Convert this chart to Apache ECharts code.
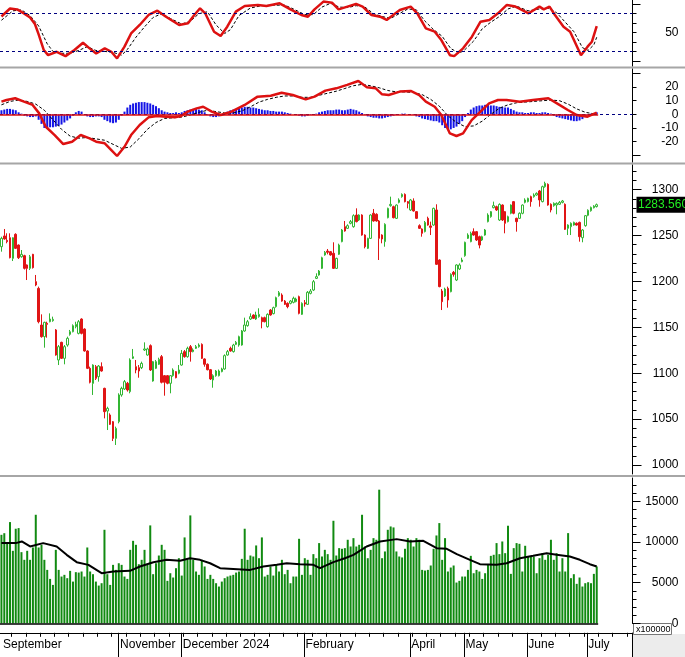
<!DOCTYPE html>
<html><head><meta charset="utf-8">
<script src="https://cdn.jsdelivr.net/npm/echarts@6/dist/echarts.min.js"></script>
<style>html,body{margin:0;padding:0;background:#fff;}#c{width:685px;height:657px;}</style>
</head><body><div id="c"></div>
<script>
// ---------- DATA ----------
const opens = [
1237.8,1249.5,1244.7,1247.6,1225.1,1251.3,1239.6,1226.9,1228.0,1217.9,
1214.2,1229.5,1199.7,1192.4,1152.5,1139.8,1154.3,1156.1,1157.2,1147.1,
1114.4,1133.6,1116.2,1130.7,1142.3,1145.2,1150.7,1143.4,1159.0,1148.1,
1124.2,1105.3,1088.9,1107.1,1096.2,1107.1,1083.5,1058.8,1054.5,1047.2,
1029.0,1047.2,1076.3,1082.8,1089.0,1079.9,1116.2,1107.1,1106.0,1106.0,
1125.3,1119.8,1130.0,1091.5,1105.3,1109.7,1118.0,1097.3,1097.3,1089.0,
1097.3,1101.7,1099.9,1108.9,1123.5,1118.0,1128.9,1123.5,1127.1,1128.9,
1131.4,1115.5,1109.7,1103.8,1092.6,1097.3,1097.3,1101.7,1104.6,1119.8,
1127.1,1123.5,1131.4,1130.7,1130.7,1146.0,1151.8,1159.0,1163.4,1159.0,
1161.6,1160.5,1160.5,1150.7,1168.8,1164.9,1172.5,1184.5,1185.2,1178.6,
1176.1,1176.1,1177.2,1178.0,1183.4,1164.1,1176.8,1175.0,1187.0,1190.6,
1203.3,1207.0,1214.2,1228.8,1233.1,1232.4,1230.6,1214.2,1229.5,1243.3,
1259.6,1257.8,1263.3,1259.6,1272.3,1266.9,1272.3,1250.5,1236.0,1246.9,
1274.2,1273.1,1265.8,1250.5,1243.3,1269.4,1282.5,1281.4,1268.7,1286.1,
1292.3,1294.8,1286.9,1277.8,1287.6,1276.0,1260.7,1257.1,1254.2,1268.7,
1260.4,1261.4,1277.8,1223.3,1189.5,1184.1,1192.4,1188.8,1209.9,1201.5,
1213.5,1221.5,1228.0,1246.9,1243.3,1254.2,1254.2,1248.7,1245.1,1250.5,
1265.1,1270.5,1280.3,1281.4,1266.9,1283.2,1276.0,1265.1,1274.2,1286.9,
1268.7,1268.7,1274.2,1286.1,1286.9,1292.3,1292.3,1294.1,1298.5,1286.9,
1303.2,1305.7,1284.0,1282.5,1283.2,1284.0,1286.1,1284.0,1257.8,1259.6,
1261.4,1263.3,1264.3,1247.6,1260.7,1272.0,1277.0,1280.2,1281.5];
const closes = [
1246.9,1246.2,1243.3,1225.8,1247.6,1236.0,1225.8,1229.5,1214.2,1214.2,
1226.9,1215.0,1196.1,1156.1,1139.8,1155.4,1153.2,1159.0,1158.7,1119.8,
1128.9,1116.2,1128.9,1138.0,1145.2,1151.8,1153.2,1156.1,1143.4,1124.2,
1105.3,1090.1,1108.9,1094.4,1107.8,1102.4,1058.1,1061.7,1044.3,1029.0,
1039.9,1076.3,1083.5,1090.8,1081.7,1114.4,1118.0,1103.5,1102.4,1110.7,
1126.4,1126.4,1103.5,1112.6,1112.6,1115.1,1090.1,1090.1,1089.0,1097.3,
1103.5,1095.1,1103.5,1121.6,1118.0,1127.1,1123.5,1125.3,1128.9,1130.7,
1116.2,1109.7,1103.8,1093.7,1097.3,1102.4,1102.4,1104.6,1119.1,1123.5,
1124.2,1130.7,1133.6,1139.8,1146.0,1152.5,1156.1,1161.6,1159.8,1163.4,
1164.1,1156.1,1156.1,1164.1,1163.4,1171.4,1182.3,1187.7,1178.6,1175.0,
1172.5,1178.6,1181.6,1180.8,1165.2,1176.1,1175.4,1188.1,1189.5,1199.7,
1205.2,1211.3,1225.8,1231.7,1231.7,1228.8,1214.2,1225.1,1239.6,1256.0,
1254.9,1260.7,1265.1,1271.6,1265.1,1272.3,1250.5,1237.8,1246.9,1272.3,
1265.8,1265.8,1246.9,1246.2,1262.2,1279.6,1283.9,1269.4,1283.2,1288.7,
1294.8,1286.9,1285.0,1288.7,1276.7,1268.7,1257.8,1252.4,1264.3,1261.4,
1258.9,1279.6,1218.6,1194.3,1177.9,1191.7,1179.7,1207.7,1207.7,1217.9,
1217.9,1223.3,1242.6,1250.5,1252.4,1250.5,1245.1,1239.6,1248.7,1256.0,
1272.3,1276.0,1282.5,1277.8,1283.9,1266.9,1263.3,1270.5,1283.2,1274.2,
1265.1,1274.2,1283.2,1288.7,1290.5,1286.9,1294.1,1295.9,1288.7,1303.2,
1306.8,1283.2,1277.8,1285.0,1285.0,1286.1,1287.6,1256.7,1261.4,1263.3,
1264.3,1261.4,1248.7,1256.0,1271.6,1277.5,1280.6,1282.0,1283.56];
const lows = [
1232.4,1245.5,1241.5,1225.1,1222.2,1235.3,1224.4,1225.8,1213.0,1201.5,
1212.4,1214.0,1194.8,1154.3,1138.7,1127.8,1138.7,1155.4,1156.1,1119.1,
1108.9,1115.5,1109.7,1128.9,1140.9,1144.5,1148.9,1142.3,1142.3,1123.5,
1104.5,1088.9,1076.3,1092.6,1090.8,1101.7,1050.8,1038.1,1043.6,1026.1,
1021.8,1045.4,1074.4,1081.7,1080.0,1078.1,1115.5,1099.9,1095.1,1104.5,
1124.2,1119.1,1102.4,1090.8,1104.5,1108.9,1088.9,1075.5,1087.9,1078.1,
1096.2,1094.4,1098.8,1108.2,1116.9,1116.9,1112.6,1122.7,1126.4,1127.8,
1115.5,1107.1,1103.1,1092.6,1084.2,1096.2,1096.5,1101.0,1103.8,1119.1,
1123.5,1122.5,1130.7,1128.9,1130.0,1145.2,1150.7,1158.0,1159.0,1158.0,
1160.5,1148.9,1155.4,1149.6,1162.7,1164.1,1171.4,1183.4,1177.9,1174.3,
1170.7,1175.0,1176.1,1177.2,1164.1,1163.4,1172.5,1174.3,1185.9,1189.5,
1202.6,1206.2,1213.5,1228.0,1229.5,1228.0,1213.5,1213.5,1228.8,1242.6,
1254.2,1257.1,1262.2,1258.5,1264.3,1265.8,1249.8,1236.0,1235.3,1246.2,
1265.1,1265.1,1223.3,1241.5,1237.8,1268.7,1281.4,1268.7,1268.0,1285.0,
1291.2,1286.1,1279.6,1276.7,1276.0,1268.0,1257.1,1248.7,1253.4,1260.7,
1250.5,1260.7,1217.9,1193.6,1168.8,1183.0,1171.4,1188.1,1205.2,1200.4,
1212.4,1220.8,1226.9,1246.2,1242.6,1249.8,1244.0,1236.0,1244.0,1249.8,
1264.3,1269.4,1279.6,1276.7,1265.8,1265.8,1252.4,1264.3,1273.1,1273.1,
1254.2,1268.0,1273.1,1285.0,1286.1,1281.4,1291.2,1293.4,1281.4,1286.1,
1302.1,1282.5,1275.2,1281.4,1273.1,1283.2,1285.0,1256.0,1250.5,1250.5,
1260.7,1260.7,1243.3,1242.6,1259.6,1271.0,1276.0,1279.5,1280.5];
const highs = [
1248.7,1257.1,1252.4,1252.4,1248.0,1252.4,1240.3,1234.2,1229.0,1218.5,
1228.8,1230.0,1207.0,1194.3,1164.1,1156.1,1156.1,1165.2,1161.6,1148.1,
1130.7,1134.3,1130.7,1139.8,1147.1,1153.2,1156.1,1157.9,1159.8,1148.9,
1125.0,1107.1,1109.7,1108.9,1108.9,1111.8,1084.2,1063.5,1056.3,1047.9,
1041.8,1078.1,1085.3,1092.6,1090.5,1116.2,1126.4,1114.4,1108.9,1112.6,
1133.6,1127.8,1131.4,1113.3,1114.4,1116.9,1119.8,1098.0,1098.0,1098.0,
1105.3,1102.4,1108.9,1125.3,1125.3,1128.9,1130.7,1127.1,1130.7,1132.5,
1132.5,1116.2,1110.7,1104.6,1098.8,1103.5,1104.0,1106.0,1120.5,1125.3,
1128.9,1132.0,1135.1,1140.9,1147.1,1160.5,1158.0,1165.2,1164.1,1167.0,
1170.7,1161.6,1161.6,1165.2,1169.9,1172.5,1183.4,1189.5,1187.0,1179.7,
1177.2,1179.7,1183.4,1182.3,1184.5,1177.2,1179.7,1189.5,1191.7,1201.5,
1208.8,1212.4,1226.9,1233.1,1235.3,1233.1,1242.6,1225.8,1241.1,1257.1,
1265.8,1262.2,1266.9,1273.1,1279.6,1273.1,1273.1,1251.3,1247.6,1273.1,
1278.9,1274.2,1266.9,1251.3,1263.3,1280.3,1292.3,1282.5,1283.9,1290.5,
1295.9,1295.9,1287.6,1289.8,1290.5,1276.7,1262.2,1257.8,1265.8,1270.5,
1265.1,1280.3,1284.0,1224.0,1191.7,1193.2,1194.3,1208.8,1211.3,1218.6,
1219.7,1225.8,1243.3,1252.4,1254.2,1257.8,1254.9,1249.8,1249.8,1257.1,
1274.2,1276.7,1286.9,1282.5,1285.0,1283.9,1276.7,1271.6,1283.9,1287.6,
1269.4,1275.2,1283.9,1290.5,1291.2,1293.4,1295.9,1297.0,1299.6,1304.3,
1308.6,1306.8,1285.0,1286.1,1286.1,1287.6,1288.7,1285.0,1262.2,1264.3,
1265.1,1264.3,1265.1,1257.1,1272.3,1278.5,1281.5,1283.0,1284.8];
const volumes = [
10900,11100,9800,12470,8930,11650,11730,8765,7820,8930,
7820,9340,13370,9340,9670,7820,6580,5470,4730,9050,
6580,5760,5970,5560,6460,5140,6300,6250,6380,5760,
9340,6380,6050,5140,4650,4940,11520,6050,4730,7200,
6580,7400,7200,5760,5470,9050,10160,9670,7280,7820,
9050,7200,12060,6050,7400,8350,9670,9050,5230,6170,
5640,6790,8020,5880,10580,7820,13290,7820,6380,5970,
7820,7000,5470,5970,5470,4940,4530,5140,5560,5760,
5880,5970,6250,6380,7940,11650,7820,8350,8230,9590,
8020,10580,5760,5970,7000,5880,7200,6380,7820,6050,
6580,4940,5760,5760,10410,5970,8020,7820,5970,8520,
8020,9880,8230,9050,8520,7820,12630,8350,9260,9180,
9260,10290,9460,10490,9460,9670,13370,9460,8020,9050,
10490,10290,16460,8020,8850,11520,11930,11810,8850,8230,
8110,9180,10490,10290,9460,10490,10290,6580,6500,6580,
7120,9180,10820,12345,7820,10490,6380,6870,7120,5020,
5230,5760,5760,6580,8310,6170,6580,6380,5470,6170,
7200,8310,8440,9880,8520,10080,8640,12020,6090,9260,
9880,9790,6380,9550,8230,8230,8230,6170,8020,8640,
7820,8440,10290,7820,8640,6380,8020,6380,11110,5560,
6050,4860,5640,4530,4940,5060,4940,6090,7000];
// [bar index, value] points of the lines
const volumeMA = [[0,9880],[5,9880],[7.1,10080],[10,9465],[14.6,9876],[19.3,9465],[22.8,8436],[26.3,7530],[30.4,7200],[35,6170],[39.1,6380],[44.9,6460],[48.4,7000],[53.1,7530],[57.7,7820],[62.4,7700],[65.9,8020],[69.4,7820],[72.9,7400],[76.4,6790],[81,6700],[86.9,6580],[91.5,7000],[96.2,7200],[99.7,7400],[104.3,7280],[109,7200],[111.3,6790],[116,7530],[120,8020],[123,8436],[127.6,9465],[132.3,10080],[138.1,10370],[142.8,10080],[147.4,10160],[152.1,9260],[155.6,9180],[159.1,8520],[163.7,7820],[167.2,7280],[173,7200],[176.5,7400],[181.2,8020],[185.8,8310],[190.5,8640],[194,8436],[198.6,8230],[202.1,7820],[205.6,7280],[208,7000]];
const rsiLine = [[0,67],[3,75.5],[5.5,74.5],[8,70],[10,66],[11.7,59],[13,48],[14.8,31.4],[16.3,26],[19.3,29.6],[22.4,25],[25.5,31.4],[28.5,39.2],[30.8,33.2],[33.1,27.8],[36.1,33.2],[38.4,29.6],[40.4,22.5],[43,35],[45.3,49],[48.3,58],[51.4,68.6],[54.5,73.2],[57.5,66.8],[62.1,58],[65.2,59.8],[67.4,68.6],[69.4,75.7],[71.2,70.4],[74.3,50.9],[76.6,46.3],[78.9,56.2],[81.9,72.2],[85,78.2],[89.6,79.3],[92.6,78.2],[97.2,81],[101,74.6],[104.8,68.6],[107.1,66.8],[109.4,74.6],[112.5,82.8],[115.5,81.7],[117.8,74.6],[120.9,77.5],[123.9,80.3],[126.2,77.5],[129.3,68.6],[132.3,66.8],[134.6,63.3],[136.9,68.6],[139.2,73.9],[143,77.5],[145.3,70.4],[148.3,54.4],[151.4,50.9],[153.7,42],[156.7,26],[158.2,25],[161.3,33.2],[164.4,45.6],[167.4,61.5],[170.5,63.3],[173.5,70.4],[176.6,79.3],[179.6,77.5],[184.2,70.4],[188,77.5],[189.5,74.6],[191.5,77.5],[193.4,68.6],[196.4,56.2],[198.7,50.9],[202.5,26],[204.8,35],[206.3,40.2],[208,56.9]];
const rsiSignal = [[0,63],[4,73],[7,74],[10,68],[13,57],[16,38],[18,30],[21,28],[24,28],[27,31],[30,35],[33,31],[36,30],[39,29],[42,26],[44,32],[47,45],[50,56],[53,66],[56,70],[59,65],[63,59],[66,62],[69,70],[72,72],[75,58],[78,49],[80,53],[83,68],[87,76],[91,78.5],[95,79],[99,79],[102,75],[106,69],[109,69],[112,77],[115,81],[118,77],[121,76.5],[124,78.5],[127,77],[130,70],[133,67],[136,65],[139,70],[142,75],[145,74],[148,62],[151,53],[154,46],[157,33],[160,28],[162,32],[165,41],[168,54],[171,61],[174,67],[177,75],[180,78],[184,73],[188,75],[191,76],[194,71],[197,61],[200,51],[203,34],[205,31],[207,37],[208,45]];
const macdLine = [[0,9.3],[1.8,10.5],[4.8,11.8],[7.9,9.3],[10.9,6.9],[13.2,0.7],[15.5,-9.1],[18.6,-15.2],[21.6,-21.8],[24.7,-20.1],[27.7,-15.2],[30.8,-17.6],[33.1,-20.1],[36.1,-21.3],[38.4,-26.2],[40.4,-30.6],[43,-23.8],[45.3,-15.2],[48.3,-7.8],[51.4,-2.2],[54.4,-1.2],[57.5,-1.7],[60.6,-2.2],[62.8,-1.2],[65.1,2],[68.2,4.4],[70.5,5.6],[73.5,2],[76.6,-0.5],[80.4,2],[85,6.9],[89.5,13],[94.1,13.7],[97.9,15.9],[101.8,14.2],[106.3,11],[109.4,13],[113.2,17.4],[117,19.1],[120.8,21.6],[124.7,24.5],[127.7,19.9],[130.8,19.1],[133,14.7],[135.3,14.2],[139.2,16.7],[143,17.2],[146,14.2],[148.3,9.3],[151.4,5.6],[153.7,-0.5],[156.7,-14],[159,-15.9],[161.3,-14],[164.3,-4.2],[167.4,2],[170.4,8.1],[173.5,10.5],[176.5,10.5],[181.1,9.3],[185.7,10.5],[191.1,11.8],[194.1,8.1],[197.9,3.2],[201,-0.5],[204.8,-1.7],[208,1.2]];
const macdSignal = [[0,7],[3,9.5],[6,10.5],[9,9.5],[12,7.5],[15,3],[18,-4],[21,-11],[24,-16],[27,-17.5],[30,-17],[33,-18],[36,-19],[39,-22],[42,-25],[45,-24],[48,-18],[51,-11],[54,-6],[57,-3],[60,-2.5],[63,-2],[66,-0.5],[69,1.5],[72,3],[75,2],[78,1],[81,1],[84,2.5],[87,5.5],[90,9],[93,11],[96,12.5],[99,13.5],[102,13.5],[105,12.5],[108,12.5],[111,14],[114,15.5],[117,17],[120,19],[123,21],[126,22],[129,21],[132,19.5],[135,17.5],[138,16.5],[141,16.5],[144,16],[147,14.5],[150,11],[153,6],[156,-1],[159,-6],[162,-9],[165,-8.5],[168,-5],[171,0],[174,4.5],[177,7],[180,8.5],[183,9],[186,9.5],[189,10],[192,10.5],[195,10],[198,7.5],[201,4],[204,1.5],[208,0]];
const macdHist = [
3,3.5,4,4,3.5,3, 1.5,0.5, -1,-1.5,-2,-2,-1.5, -4, -7,
-10,-10,-9.5,-9.5,-9, -8.5,-7.5,-6,-4.5,-3, -1, 1.5,2.5,2, 0,
-1.5,-2,-2,-1.5,-1.5,-2, -4,-5,-6,-6.5,-6,-4, -1,
2,5,7,8,8.5,9,9,9,8.5,8,7,6,4.5,3,
2,1.5,1,1,1.5,1,1.5, 2.5,3,3.5,4,4,3.5,3,1.5,
-0.5,-1.5,-2,-2,-1.5,-0.5,
1,2,3,3.5,4,4.5,5,5.5,5.5,5,5,4.5,4,3.5,3,3,2.5,
2.5,2,2,2,1.5,1,0.5,0,-0.5, -1,-1.5,-1.5,-1,-0.5,0,0.5,
1.5,2,2.5,3,3,3,3.5,3.5,3,3,3.5,4,3.5,3,2,1,
-0.5,-1.5,-2,-2.5,-2.5,-3,-3,-2.5,-2,-1.5,-1,
-0.5,0,0.5,0.5,0,0,-0.5,
-1.5,-2,-3,-3.5,-4,-4.5,-5,-5,
-6,-8,-10,-11,-11,-10,-9,-7,-5,-2,
1,3.5,5,6,6.5,6.5,7,7,6.5,6.5,6,5.5,5.5, 5,5,4,3,
2,1.5,1.5,1,1,1.5,1.5,1,1,1.5,1.5,1,0.5,
-1,-2,-2.5,-3,-3.5,-4,-4.5,-5,-5,-4.5,-3.5,-2,
-0.5,0.5,1,1.5];
const monthStarts = [0, 41, 63, 84, 106, 143, 162, 184, 205];
const monthNames = ['September','November','December','2024','February','April','May','June','July'];
const monthLines = [41, 63, 106, 143, 162, 184, 205];
const priceMajor = [1000,1050,1100,1150,1200,1250,1300];
const volMajor = [0,5000,10000,15000];
const macdLabels = [-20,-10,0,10,20];
const rsiLabels = [50];

// ---------- CHART ----------
const SLOTS = 221;
const FONT = '"Liberation Sans", Arial, sans-serif';
const cats = []; for (let i = 0; i < SLOTS; i++) cats.push(String(i));
const candles = opens.map((o, i) => [o, closes[i], lows[i], highs[i]]);
const lastIdx = closes.length - 1;
const monthLabelMap = new Map(monthStarts.map((m, k) => [m, monthNames[k]]));
const monthLineSet = new Set(monthLines);
const weekSet = new Set(); for (let i = 4; i < SLOTS; i += 5) if (!monthLineSet.has(i)) weekSet.add(i);
function range(a, b, s) { const r = []; for (let v = a; v <= b + 1e-9; v += s) r.push(v); return r; }

const panels = [
  { top: 0, height: 66 },
  { top: 69, height: 93 },
  { top: 165, height: 309 },
  { top: 478, height: 145.3 }
];
// grids 0-3 carry the series, grids 4-7 (same rectangles) carry the long major ticks
const grids = panels.concat(panels).map(p => ({ left: 0, right: 52.5, top: p.top, height: p.height }));
function yAx(grid, min, max, ticks, len, labels, line) {
  return { type: 'value', gridIndex: grid, position: 'right', min: min, max: max,
    axisLine: { show: line, onZero: false, lineStyle: { color: '#000', width: 1 } },
    axisTick: { show: true, length: len, customValues: ticks, lineStyle: { color: '#000', width: 1 } },
    axisLabel: { show: labels.length > 0, customValues: labels.length ? labels : undefined, align: 'right', margin: 46,
      color: '#000', fontSize: 12, fontFamily: FONT, formatter: (v) => String(v) },
    splitLine: { show: false } };
}
const valX = (g) => ({ type: 'value', gridIndex: g, min: -0.5, max: SLOTS - 0.5, show: false, axisLine: { onZero: false } });
const catX = (g) => ({ type: 'category', gridIndex: g, data: cats, show: false, boundaryGap: true, axisLine: { onZero: false } });

const option = {
  animation: false,
  backgroundColor: '#fff',
  grid: grids,
  xAxis: [
    valX(0), catX(1), valX(1), catX(2), catX(3), valX(3),
    { type: 'category', gridIndex: 3, data: cats, position: 'bottom', offset: 9.5,
      axisLine: { show: true, onZero: false, lineStyle: { color: '#000', width: 1 } },
      axisTick: { show: true, interval: (i) => weekSet.has(i), length: 4, lineStyle: { color: '#000' } },
      axisLabel: { show: false }, splitLine: { show: false } },
    { type: 'category', gridIndex: 7, data: cats, position: 'bottom', offset: 9.5,
      axisLine: { show: false, onZero: false },
      axisTick: { show: true, interval: (i) => monthLineSet.has(i), length: 25, lineStyle: { color: '#000' } },
      axisLabel: { show: true, interval: (i) => monthLabelMap.has(i), formatter: (v, i) => monthLabelMap.get(i) || '',
        align: 'left', margin: 6, color: '#000', fontSize: 12, fontFamily: FONT },
      splitLine: { show: false } },
    valX(4), valX(5), valX(6)
  ],
  yAxis: [
    yAx(0, 14.5, 84.5, range(30, 70, 10), 4, rsiLabels, true),               // 0
    yAx(1, -35, 33.3, range(-20, 20, 10), 4, macdLabels, true),              // 1
    yAx(2, 990.2, 1326.8, range(1000, 1320, 10), 4, [], true),               // 2
    yAx(3, 0, 17900, range(0, 17000, 1000), 4, [], true),                    // 3
    yAx(4, 14.5, 84.5, [20, 80], 8, [], false),                              // 4
    yAx(5, -35, 33.3, [-30, 30], 8, [], false),                              // 5
    yAx(6, 990.2, 1326.8, priceMajor, 9, priceMajor, false),                 // 6
    yAx(7, 0, 17900, volMajor, 8, volMajor, false)                           // 7
  ],
  series: [
    { name: 'RSI signal', type: 'line', xAxisIndex: 0, yAxisIndex: 0, data: rsiSignal, showSymbol: false, symbol: 'none',
      lineStyle: { color: '#000', width: 1, type: [3, 2] }, z: 3,
      markLine: { silent: true, symbol: 'none', label: { show: false },
        lineStyle: { color: '#000080', width: 1, type: [3, 3] }, data: [{ yAxis: 70 }, { yAxis: 30 }] } },
    { name: 'RSI', type: 'line', xAxisIndex: 0, yAxisIndex: 0, data: rsiLine, showSymbol: false, symbol: 'none',
      lineStyle: { color: '#dd1111', width: 2.5 }, z: 4 },
    { name: 'Hist', type: 'bar', xAxisIndex: 1, yAxisIndex: 1, data: macdHist, barWidth: 2,
      itemStyle: { color: '#1414e6' }, z: 2,
      markLine: { silent: true, symbol: 'none', label: { show: false },
        lineStyle: { color: '#000080', width: 1, type: [3, 3] }, data: [{ yAxis: 0 }] } },
    { name: 'MACD signal', type: 'line', xAxisIndex: 2, yAxisIndex: 1, data: macdSignal, showSymbol: false, symbol: 'none',
      lineStyle: { color: '#000', width: 1, type: [3, 2] }, z: 3 },
    { name: 'MACD', type: 'line', xAxisIndex: 2, yAxisIndex: 1, data: macdLine, showSymbol: false, symbol: 'none',
      lineStyle: { color: '#dd1111', width: 2.5 }, z: 4,
      markLine: { silent: true, symbol: 'none', label: { show: false },
        lineStyle: { color: '#dd1111', width: 1.5, type: 'solid' },
        data: [[{ coord: [-0.5, 0] }, { coord: [lastIdx + 0.5, 0] }]] } },
    { name: 'Price', type: 'candlestick', xAxisIndex: 3, yAxisIndex: 2, data: candles, barWidth: 2,
      itemStyle: { color: '#ffffff', color0: '#e01515', borderColor: '#33b633', borderColor0: '#e01515', borderWidth: 1 } },
    { name: 'Volume', type: 'bar', xAxisIndex: 4, yAxisIndex: 3, data: volumes, barWidth: 2,
      itemStyle: { color: '#118a11' } },
    { name: 'Volume MA', type: 'line', xAxisIndex: 5, yAxisIndex: 3, data: volumeMA, showSymbol: false, symbol: 'none',
      lineStyle: { color: '#000', width: 2 }, z: 4,
      markLine: { silent: true, symbol: 'none', label: { show: false },
        lineStyle: { color: '#000', width: 1.5, type: 'solid' },
        data: [[{ coord: [-0.5, 0] }, { coord: [lastIdx + 0.5, 0] }]] } }
  ]
};
const chart = echarts.init(document.getElementById('c'), null, { renderer: 'canvas' });
chart.setOption(option);

const lastClose = closes[lastIdx];
const py = chart.convertToPixel({ yAxisIndex: 2 }, lastClose);
const sep = (y) => ({ type: 'rect', shape: { x: 0, y: y, width: 685, height: 2 }, style: { fill: '#a6a6a6' }, silent: true });
chart.setOption({
  graphic: [
    sep(66.5), sep(162.5), sep(475),
    { type: 'rect', shape: { x: 633, y: 634, width: 52, height: 23 }, style: { fill: '#ececec' }, silent: true },
    { type: 'rect', shape: { x: 633.5, y: 623.5, width: 38, height: 11 }, style: { fill: '#fff', stroke: '#777', lineWidth: 1 }, silent: true },
    { type: 'text', x: 636, y: 629.5, style: { text: 'x100000', fill: '#000', font: '9px ' + FONT, verticalAlign: 'middle' }, silent: true },
    { type: 'rect', shape: { x: 636.5, y: py - 8, width: 48.5, height: 16 }, style: { fill: '#000' }, silent: true, z: 10 },
    { type: 'text', x: 638, y: py, z: 11, style: { text: lastClose.toFixed(3), fill: '#22ee22', font: '12px ' + FONT, verticalAlign: 'middle' }, silent: true }
  ]
});
</script>
</body></html>
